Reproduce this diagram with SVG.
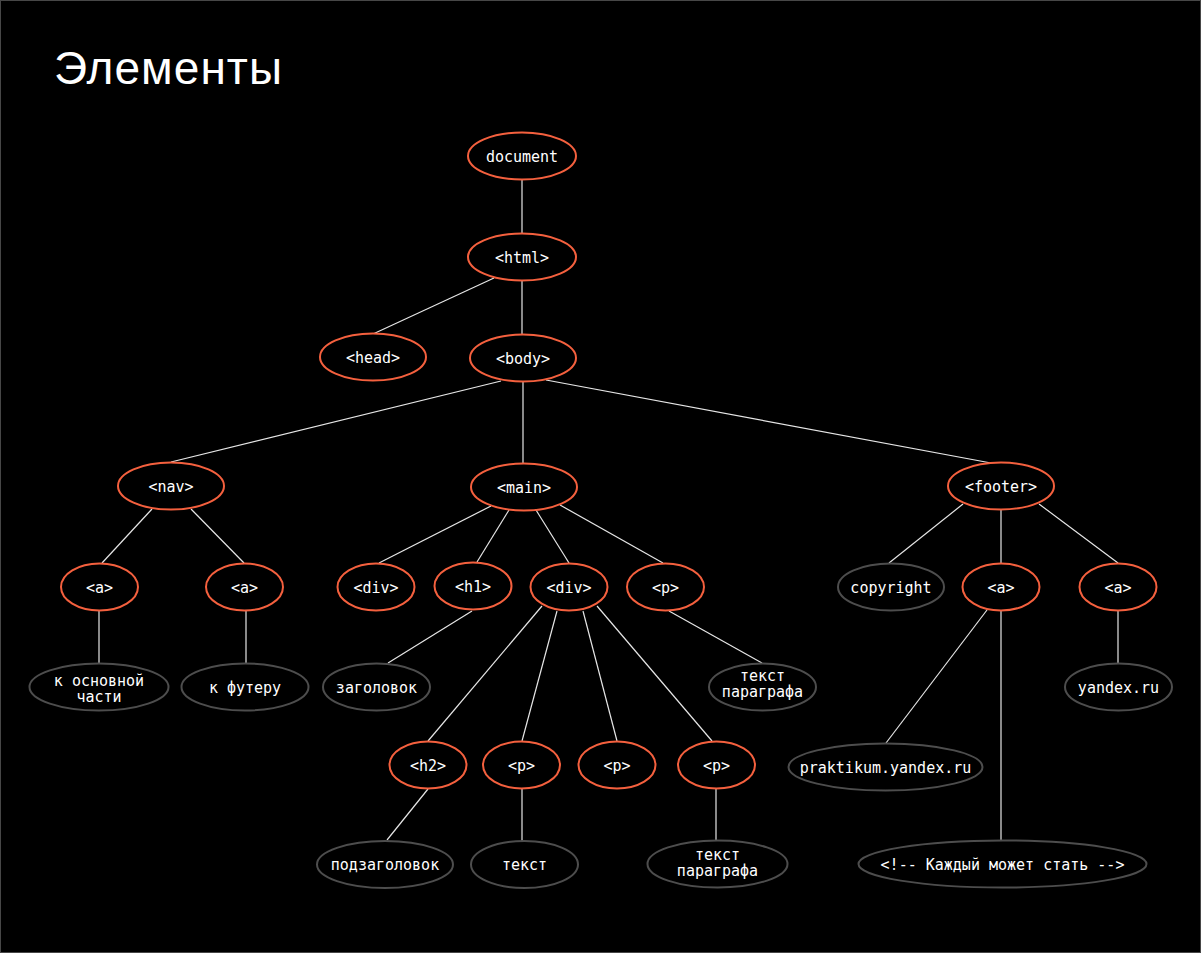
<svg xmlns="http://www.w3.org/2000/svg" width="1201" height="953" viewBox="0 0 1201 953">
<style>
.t{fill:#fff;font-family:"DejaVu Sans Mono","Liberation Mono",monospace;font-size:15px;text-anchor:middle}
.o{fill:#000;stroke:#f4603e;stroke-width:2}
.g{fill:#000;stroke:#4d4d4d;stroke-width:2}
#edges line{stroke:#e6e6e6;stroke-width:1.2}
</style>
<rect x="0.5" y="0.5" width="1200" height="952" fill="#000" stroke="#474747"/>
<text x="54" y="84" fill="#fff" font-family="'Liberation Sans',Arial,sans-serif" font-size="46" textLength="228" lengthAdjust="spacing">Элементы</text>
<g id="edges">
<line x1="522" y1="180" x2="522" y2="234"/>
<line x1="494" y1="278" x2="373" y2="334"/>
<line x1="522" y1="281" x2="522" y2="335"/>
<line x1="501" y1="381" x2="171" y2="462"/>
<line x1="523" y1="381" x2="523" y2="463"/>
<line x1="546" y1="380" x2="991" y2="463"/>
<line x1="152" y1="509" x2="102" y2="563"/>
<line x1="191" y1="509" x2="244" y2="563"/>
<line x1="99" y1="611" x2="99" y2="663"/>
<line x1="246" y1="611" x2="246" y2="663"/>
<line x1="491" y1="506" x2="379" y2="563"/>
<line x1="509" y1="510" x2="477" y2="562"/>
<line x1="536" y1="510" x2="569" y2="563"/>
<line x1="560" y1="505" x2="663" y2="563"/>
<line x1="472" y1="611" x2="388" y2="663"/>
<line x1="669" y1="611" x2="762" y2="663"/>
<line x1="542" y1="606" x2="428" y2="741"/>
<line x1="557" y1="611" x2="522" y2="741"/>
<line x1="583" y1="611" x2="617" y2="741"/>
<line x1="597" y1="606" x2="712" y2="741"/>
<line x1="428" y1="789" x2="387" y2="840"/>
<line x1="522" y1="789" x2="522" y2="841"/>
<line x1="716" y1="789" x2="716" y2="841"/>
<line x1="963" y1="504" x2="889" y2="563"/>
<line x1="1001" y1="510" x2="1001" y2="563"/>
<line x1="1039" y1="504" x2="1118" y2="563"/>
<line x1="1118" y1="611" x2="1118" y2="663"/>
<line x1="987" y1="610" x2="886" y2="743"/>
<line x1="1001" y1="611" x2="1001" y2="840"/>
</g>
<g id="n-document"><ellipse class="o" cx="522" cy="156" rx="54" ry="23.5"/><text class="t" x="522" y="162">document</text></g>
<g id="n-html"><ellipse class="o" cx="522" cy="257" rx="54" ry="23.5"/><text class="t" x="522" y="263">&lt;html&gt;</text></g>
<g id="n-head"><ellipse class="o" cx="373" cy="357" rx="53" ry="23.5"/><text class="t" x="373" y="363">&lt;head&gt;</text></g>
<g id="n-body"><ellipse class="o" cx="523" cy="358" rx="53" ry="23.5"/><text class="t" x="523" y="364">&lt;body&gt;</text></g>
<g id="n-nav"><ellipse class="o" cx="171" cy="486" rx="53" ry="23.5"/><text class="t" x="171" y="492">&lt;nav&gt;</text></g>
<g id="n-main"><ellipse class="o" cx="524" cy="487" rx="53" ry="23.5"/><text class="t" x="524" y="493">&lt;main&gt;</text></g>
<g id="n-footer"><ellipse class="o" cx="1001" cy="486" rx="53" ry="23.5"/><text class="t" x="1001" y="492">&lt;footer&gt;</text></g>
<g id="n-a1"><ellipse class="o" cx="99.5" cy="587" rx="38.5" ry="23.5"/><text class="t" x="99.5" y="593">&lt;a&gt;</text></g>
<g id="n-a2"><ellipse class="o" cx="244.5" cy="587" rx="38.5" ry="23.5"/><text class="t" x="244.5" y="593">&lt;a&gt;</text></g>
<g id="n-t1"><ellipse class="g" cx="99" cy="687" rx="69.5" ry="23.5"/><text class="t" x="99" y="686">к основной</text><text class="t" x="99" y="702">части</text></g>
<g id="n-t2"><ellipse class="g" cx="245" cy="687" rx="63.5" ry="23.5"/><text class="t" x="245" y="693">к футеру</text></g>
<g id="n-div1"><ellipse class="o" cx="376" cy="587" rx="38.5" ry="23.5"/><text class="t" x="376" y="593">&lt;div&gt;</text></g>
<g id="n-h1"><ellipse class="o" cx="473" cy="586" rx="38.5" ry="23.5"/><text class="t" x="473" y="592">&lt;h1&gt;</text></g>
<g id="n-div2"><ellipse class="o" cx="569" cy="587" rx="38.5" ry="23.5"/><text class="t" x="569" y="593">&lt;div&gt;</text></g>
<g id="n-p0"><ellipse class="o" cx="665.5" cy="587" rx="38.5" ry="23.5"/><text class="t" x="665.5" y="593">&lt;p&gt;</text></g>
<g id="n-t3"><ellipse class="g" cx="376.5" cy="687" rx="53.5" ry="23.5"/><text class="t" x="376.5" y="693">заголовок</text></g>
<g id="n-t4"><ellipse class="g" cx="762.5" cy="687" rx="53.5" ry="23.5"/><text class="t" x="762.5" y="681">текст</text><text class="t" x="762.5" y="697">параграфа</text></g>
<g id="n-h2"><ellipse class="o" cx="428" cy="765" rx="38.5" ry="23.5"/><text class="t" x="428" y="771">&lt;h2&gt;</text></g>
<g id="n-p1"><ellipse class="o" cx="521.5" cy="765" rx="38.5" ry="23.5"/><text class="t" x="521.5" y="771">&lt;p&gt;</text></g>
<g id="n-p2"><ellipse class="o" cx="617" cy="765" rx="38.5" ry="23.5"/><text class="t" x="617" y="771">&lt;p&gt;</text></g>
<g id="n-p3"><ellipse class="o" cx="716.5" cy="765" rx="38.5" ry="23.5"/><text class="t" x="716.5" y="771">&lt;p&gt;</text></g>
<g id="n-t5"><ellipse class="g" cx="385" cy="864.5" rx="68" ry="23.5"/><text class="t" x="385" y="870">подзаголовок</text></g>
<g id="n-t6"><ellipse class="g" cx="524.5" cy="864.5" rx="53.5" ry="23.5"/><text class="t" x="524.5" y="870">текст</text></g>
<g id="n-t7"><ellipse class="g" cx="717.5" cy="864" rx="70" ry="23.5"/><text class="t" x="717.5" y="860">текст</text><text class="t" x="717.5" y="876">параграфа</text></g>
<g id="n-copyright"><ellipse class="g" cx="891" cy="587" rx="53" ry="23.5"/><text class="t" x="891" y="593">copyright</text></g>
<g id="n-a3"><ellipse class="o" cx="1001" cy="587" rx="38.5" ry="23.5"/><text class="t" x="1001" y="593">&lt;a&gt;</text></g>
<g id="n-a4"><ellipse class="o" cx="1118" cy="587" rx="38.5" ry="23.5"/><text class="t" x="1118" y="593">&lt;a&gt;</text></g>
<g id="n-yandex"><ellipse class="g" cx="1118.5" cy="687" rx="53.5" ry="23.5"/><text class="t" x="1118.5" y="693">yandex.ru</text></g>
<g id="n-praktikum"><ellipse class="g" cx="885.5" cy="767" rx="97" ry="23.5"/><text class="t" x="885.5" y="773">praktikum.yandex.ru</text></g>
<g id="n-comment"><ellipse class="g" cx="1002.5" cy="864" rx="144" ry="23.5"/><text class="t" x="1002.5" y="870">&lt;!-- Каждый может стать --&gt;</text></g>
</svg>
